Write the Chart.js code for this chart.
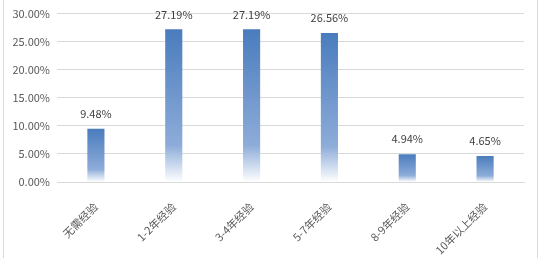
<!DOCTYPE html>
<html><head><meta charset="utf-8">
<script src="https://cdn.jsdelivr.net/npm/chart.js@4/dist/chart.umd.min.js"></script>
<style>
html,body{margin:0;padding:0;background:#fff;}
#wrap{position:relative;width:544px;height:258px;}
#frame{position:absolute;left:3px;top:0;width:535px;height:262px;border:1px solid #d9d9d9;border-top:none;box-sizing:border-box;}
canvas{position:absolute;left:0;top:0;}
</style></head>
<body>
<div id="wrap"><div id="frame"></div><canvas id="c" width="544" height="258"></canvas></div>
<script>
const categories = ["无需经验","1-2年经验","3-4年经验","5-7年经验","8-9年经验","10年以上经验"];
const values = [9.48, 27.19, 27.19, 26.56, 4.94, 4.65];
const yTicks = [0, 5, 10, 15, 20, 25, 30];
const FONT = "'Noto Sans CJK SC', 'Noto Sans', sans-serif";

const labelPlugin = {
  id: 'valLabels',
  afterDatasetsDraw(chart){
    const ctx = chart.ctx;
    const meta = chart.getDatasetMeta(0);
    ctx.save();
    ctx.font = "11px " + FONT;
    ctx.fillStyle = '#404040';
    ctx.textAlign = 'center';
    ctx.textBaseline = 'middle';
    meta.data.forEach((bar,i)=>{
      ctx.fillText(values[i].toFixed(2)+'%', bar.x, bar.y - 15);
    });
    ctx.restore();
  }
};

new Chart(document.getElementById('c'), {
  type: 'bar',
  data: {
    labels: categories,
    datasets: [{
      data: values,
      backgroundColor(context){
        const chart = context.chart;
        const ys = chart.scales && chart.scales.y;
        if (!ys || context.raw === undefined) return '#4f81bd';
        const top = ys.getPixelForValue(context.raw);
        const base = ys.getPixelForValue(0);
        if (!isFinite(top) || !isFinite(base) || top === base) return '#4f81bd';
        const g = chart.ctx.createLinearGradient(0, top, 0, base);
        g.addColorStop(0, '#4a7cbd');
        g.addColorStop(0.76, '#8dacd9');
        g.addColorStop(1, '#ffffff');
        return g;
      },
      borderWidth: 0,
      categoryPercentage: 1,
      barPercentage: 0.22
    }]
  },
  options: {
    responsive: false,
    animation: false,
    layout: { padding: { left: 0, right: 20, top: 10, bottom: 0 } },
    plugins: { legend: { display: false }, tooltip: { enabled: false } },
    scales: {
      y: {
        min: 0, max: 30,
        afterBuildTicks(scale){ scale.ticks = yTicks.map(v=>({value:v})); },
        afterFit(scale){ scale.width = 57; },
        grid: { color: '#d9d9d9', drawTicks: false, lineWidth: 1 },
        border: { display: false },
        ticks: { padding: 7, color: '#595959', font: { family: FONT, size: 11 },
          callback: v => v.toFixed(2) + '%' }
      },
      x: {
        afterFit(scale){ scale.height = 76; },
        grid: { display: false, drawTicks: false },
        border: { display: true, color: '#d9d9d9' },
        ticks: { padding: 18, minRotation: 45, maxRotation: 45, color: '#595959', font: { family: FONT, size: 11 } }
      }
    }
  },
  plugins: [labelPlugin]
});
</script>
</body></html>
